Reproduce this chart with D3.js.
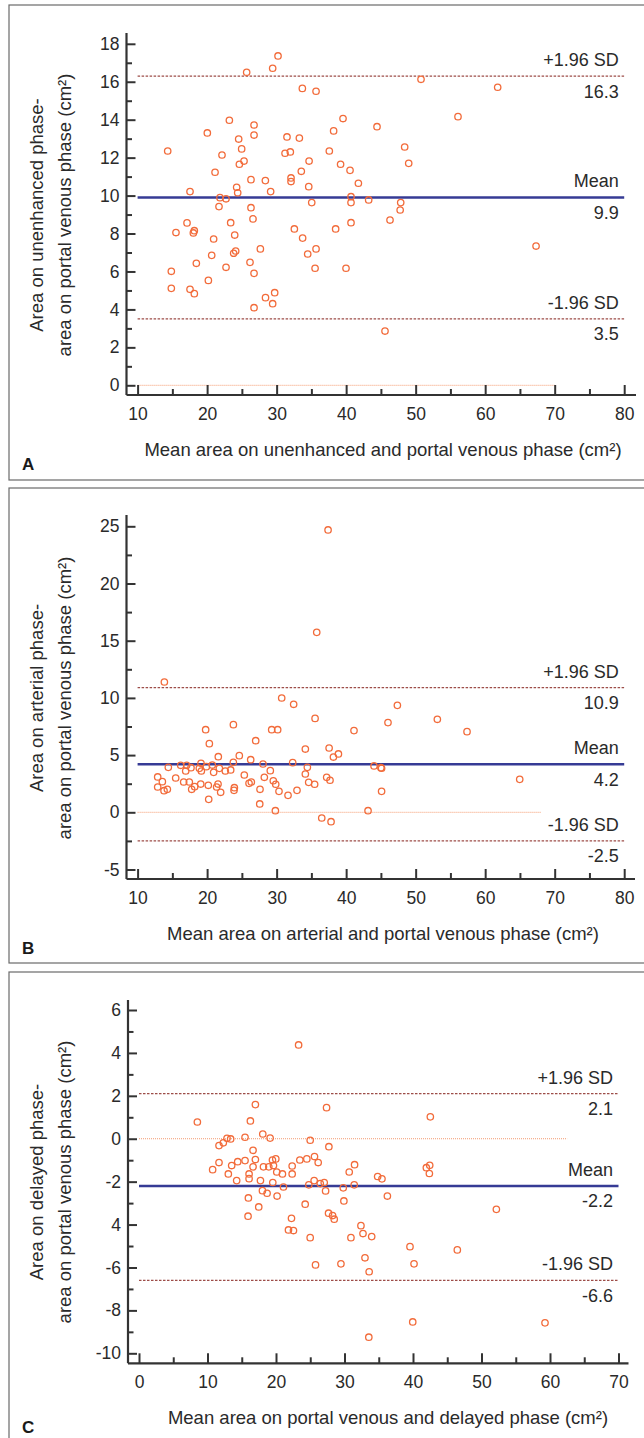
<!DOCTYPE html>
<html>
<head>
<meta charset="utf-8">
<script src="https://cdn.jsdelivr.net/npm/d3@7"></script>
<style>
  html, body { margin: 0; padding: 0; background: #fff; }
  svg { display: block; }
</style>
</head>
<body>
<script>
// Bland-Altman plots: area differences between CT phases (panels A, B, C)

// ---- panel A: unenhanced vs portal venous ----
const aMean = [14.33, 17.54, 15.52, 14.85, 14.85, 17.11, 18.16, 18.02, 18.45, 17.54,
  18.16, 20.03, 21.14, 22.14, 23.2, 20.94, 20.66, 20.18, 21.85, 21.71,
  22.72, 22.72, 23.39, 23.97, 24.11, 23.82, 24.54, 24.97, 25.31, 24.64,
  24.25, 24.4, 25.69, 26.75, 26.75, 26.31, 26.31, 26.6, 26.17, 26.75,
  26.75, 27.66, 28.38, 29.14, 28.4, 29.43, 29.72, 29.43, 30.2, 31.21,
  31.97, 31.49, 33.27, 32.07, 32.07, 32.55, 33.55, 33.7, 33.74, 34.47,
  34.67, 34.62, 35.05, 35.67, 35.67, 35.53, 37.58, 38.2, 39.55, 39.2,
  38.49, 39.98, 40.56, 41.76, 40.7, 40.7, 40.7, 43.24, 44.44, 45.59,
  46.31, 47.85, 47.77, 48.42, 49.0, 50.77, 56.09, 61.8, 67.32];
const aDiff = [12.35, 10.21, 8.05, 6.01, 5.11, 8.56, 8.15, 8.03, 6.43, 5.06,
  4.83, 13.3, 11.23, 12.14, 13.97, 7.71, 6.85, 5.53, 9.89, 9.42,
  9.83, 6.22, 8.57, 7.92, 7.08, 6.96, 12.98, 12.46, 11.82, 11.65,
  10.44, 10.15, 16.5, 13.72, 13.19, 10.84, 9.36, 8.77, 6.48, 5.9,
  4.09, 7.19, 10.79, 10.21, 4.62, 4.3, 4.88, 16.71, 17.36, 12.23,
  12.3, 13.09, 13.03, 10.93, 10.74, 8.24, 11.28, 15.65, 7.76, 6.92,
  11.82, 10.47, 9.63, 15.5, 7.19, 6.17, 12.35, 13.41, 14.06, 11.65,
  8.24, 6.17, 11.33, 10.65, 9.94, 9.63, 8.57, 9.77, 13.63, 2.86,
  8.71, 9.63, 9.24, 12.56, 11.7, 16.13, 14.16, 15.71, 7.34];
const aLimits = [16.3, 9.9, 3.5];          // +1.96 SD, mean, -1.96 SD
const aZeroSpan = [10, 70];
const aXTicks = [10, 20, 30, 40, 50, 60, 70, 80];
const aYTicks = [0, 2, 4, 6, 8, 10, 12, 14, 16, 18];
const aYTickLabels = ["0", "2", "4", "6", "8", "10", "12", "14", "16", "18"];
const aXTitle = "Mean area on unenhanced and portal venous phase (cm\u00B2)";
const aYTitle = ["Area on unenhanced phase-", "area on portal venous phase (cm\u00B2)"];

// ---- panel B: arterial vs portal venous ----
const bMean = [13.85, 19.79, 20.32, 23.78, 26.99, 29.29, 30.15, 30.73, 32.45, 35.53,
  35.77, 37.4, 34.13, 37.55, 38.17, 38.89, 41.13,
  12.89, 13.56, 12.89, 13.8, 14.28, 14.42, 15.48, 16.2, 17.06, 16.92,
  16.63, 17.44, 17.78, 17.68, 18.21, 19.08, 19.12, 18.88, 19.17, 19.89,
  20.17, 20.23, 20.75, 20.94, 21.61, 21.76, 21.57, 21.37, 21.95, 22.62,
  23.39, 23.77, 24.63, 23.92, 23.87, 25.35, 26.27, 26.03, 26.36, 27.61,
  27.57, 28.04, 28.23, 29.09, 29.52,
  29.87, 30.34, 29.82, 32.31, 31.64, 32.93, 34.13, 34.42, 34.61, 35.47,
  37.2, 37.68, 36.49, 37.83, 43.15,
  44.01, 45.0, 45.1, 45.1, 46.02, 47.37, 53.12, 57.39, 64.97];
const bDiff = [11.39, 7.22, 6.0, 7.66, 6.26, 7.22, 7.22, 9.99, 9.44, 8.21,
  15.73, 24.68, 5.53, 5.62, 4.83, 5.1, 7.14,
  3.09, 2.68, 2.21, 1.89, 2.01, 3.93, 3.0, 4.11, 4.11, 3.61,
  2.65, 2.65, 2.01, 3.9, 2.24, 2.47, 4.28, 3.84, 3.61, 3.99,
  2.36, 1.13, 4.13, 3.49, 4.86, 3.84, 2.47, 2.21, 1.75, 3.61,
  3.7, 4.37, 4.95, 2.15, 1.92, 3.26, 4.6, 2.53, 2.65, 2.01,
  0.73, 4.22, 3.06, 3.64, 2.76,
  2.45, 1.83, 0.14, 4.34, 1.48, 1.92, 3.35, 3.93, 2.62, 2.45,
  3.06, 2.8, -0.5, -0.82, 0.14,
  4.05, 3.9, 3.85, 1.83, 7.84, 9.35, 8.13, 7.05, 2.88];
const bLimits = [10.9, 4.2, -2.5];
const bZeroSpan = [10, 68];
const bXTicks = [10, 20, 30, 40, 50, 60, 70, 80];
const bYTicks = [-5, 0, 5, 10, 15, 20, 25];
const bYTickLabels = ["-5", "0", "5", "10", "15", "20", "25"];
const bXTitle = "Mean area on arterial and portal venous phase (cm\u00B2)";
const bYTitle = ["Area on arterial phase-", "area on portal venous phase (cm\u00B2)"];

// ---- panel C: portal venous vs delayed ----
const cMean = [8.52, 10.75, 11.68, 12.31, 12.85, 13.38, 11.68, 13.04, 13.53, 14.41,
  14.26, 15.48, 15.48, 16.26, 16.99, 16.65, 16.99, 16.65, 16.07, 16.07,
  15.97, 15.92, 17.48, 17.73, 18.07, 18.17, 18.02, 18.7, 18.95, 19.14,
  19.48, 19.97, 19.63, 19.53, 20.11, 20.16, 20.94, 21.09, 22.36, 22.36,
  22.26, 21.82, 22.55, 23.48, 24.26, 24.5, 24.79, 24.99, 24.99, 25.57,
  25.62, 26.16, 25.77, 26.46, 27.04, 27.24, 27.38, 27.72, 27.67, 28.26,
  28.5, 29.48, 29.82, 29.91, 30.69, 31.47, 31.42, 30.94, 32.4, 32.7,
  32.99, 33.6, 33.97, 33.55, 23.3, 34.84, 35.47, 36.26, 39.56, 40.15,
  39.96, 42.53, 41.95, 42.44, 42.39, 46.47, 52.17, 59.27];
const cDiff = [0.78, -1.44, -0.32, -0.19, 0.02, -0.01, -1.11, -1.64, -1.25, -1.07,
  -1.95, 0.07, -1.02, 0.83, 1.59, -0.54, -0.97, -1.31, -1.64, -1.86,
  -2.76, -3.61, -3.18, -1.95, 0.22, -1.31, -2.42, -2.54, -1.31, 0.03,
  -0.99, -0.94, -1.25, -2.04, -1.55, -2.67, -1.64, -2.25, -1.27, -1.64,
  -3.71, -4.25, -4.28, -0.99, -3.05, -0.94, -2.15, -0.07, -4.61, -1.95,
  -0.83, -1.11, -5.88, -2.09, -2.04, -2.43, 1.45, -0.37, -3.47, -3.58,
  -3.75, -5.83, -2.29, -2.9, -1.55, -1.21, -2.15, -4.61, -4.05, -4.42,
  -5.55, -6.2, -4.56, -9.25, 4.37, -1.76, -1.87, -2.67, -5.03, -5.83,
  -8.54, 1.02, -1.35, -1.24, -1.62, -5.18, -3.29, -8.58];
const cLimits = [2.1, -2.2, -6.6];
const cZeroSpan = [0, 62.5];
const cXTicks = [0, 10, 20, 30, 40, 50, 60, 70];
const cYTicks = [-10, -8, -6, -4, -2, 0, 2, 4, 6];
const cYTickLabels = ["-10", "-8", "-6", "4", "-2", "0", "2", "4", "6"];
const cXTitle = "Mean area on portal venous and delayed phase (cm\u00B2)";
const cYTitle = ["Area on delayed phase-", "area on portal venous phase (cm\u00B2)"];

const limitNames = ["+1.96 SD", "Mean", "-1.96 SD"];

// ---- page ----
const W = 644, H = 1438;
const FONT = "'Liberation Sans', Arial, sans-serif";
const INK = "#2a2a2a";

const svg = d3.select("body").append("svg")
  .attr("width", W).attr("height", H)
  .attr("viewBox", `0 0 ${W} ${H}`)
  .style("background", "#fff");

const panels = [
  { letter: "A", xs: aMean, ys: aDiff, limits: aLimits, zero: aZeroSpan,
    xTicks: aXTicks, yTicks: aYTicks, yLabels: aYTickLabels, xTitle: aXTitle, yTitle: aYTitle,
    xDom: [10, 80], xRange: [137.6, 624.2], yDom: [0, 18], yRange: [385.3, 43.8],
    frame: [5, 480], axisX: 126.5, axisY: 395, axisTop: 33, axisRight: 636,
    xTitleX: 383, yTitleY: 215 },
  { letter: "B", xs: bMean, ys: bDiff, limits: bLimits, zero: bZeroSpan,
    xTicks: bXTicks, yTicks: bYTicks, yLabels: bYTickLabels, xTitle: bXTitle, yTitle: bYTitle,
    xDom: [10, 80], xRange: [137.6, 624.2], yDom: [0, 25], yRange: [812.3, 526.3],
    frame: [488, 963], axisX: 126.5, axisY: 879, axisTop: 515, axisRight: 635,
    xTitleX: 383, yTitleY: 698 },
  { letter: "C", xs: cMean, ys: cDiff, limits: cLimits, zero: cZeroSpan,
    xTicks: cXTicks, yTicks: cYTicks, yLabels: cYTickLabels, xTitle: cXTitle, yTitle: cYTitle,
    xDom: [0, 70], xRange: [139, 618.5], yDom: [-10, 6], yRange: [1353.3, 1010],
    frame: [972, 1450], axisX: 128, axisY: 1363.3, axisTop: 1000, axisRight: 628.5,
    xTitleX: 388, yTitleY: 1182 }
];

panels.forEach(drawPanel);

function midpoints(ticks) {
  return d3.pairs(ticks).map(([a, b]) => (a + b) / 2);
}

function drawPanel(p) {
  const x = d3.scaleLinear().domain(p.xDom).range(p.xRange);
  const y = d3.scaleLinear().domain(p.yDom).range(p.yRange);
  const g = svg.append("g").attr("class", "panel");

  // frame round the panel
  g.append("rect")
    .attr("x", 9).attr("y", p.frame[0])
    .attr("width", 660).attr("height", p.frame[1] - p.frame[0])
    .attr("fill", "none").attr("stroke", "#6a6a6a").attr("stroke-width", 1.2);

  // zero line
  g.append("line")
    .attr("x1", x(p.zero[0])).attr("x2", x(p.zero[1]))
    .attr("y1", y(0)).attr("y2", y(0))
    .attr("stroke", "#f49a6e").attr("stroke-width", 1)
    .attr("stroke-dasharray", "1,1");

  // limits of agreement + mean
  const x0 = x(p.xDom[0]), x1 = x(p.xDom[1]);
  p.limits.forEach((v, i) => {
    const isMean = i === 1;
    g.append("line")
      .attr("x1", x0).attr("x2", x1)
      .attr("y1", y(v)).attr("y2", y(v))
      .attr("stroke", isMean ? "#363b95" : "#9d4d48")
      .attr("stroke-width", isMean ? 2.6 : 1.3)
      .attr("stroke-dasharray", isMean ? null : "2.5,1.5");

    g.append("text")
      .attr("x", x1 - 5.5).attr("y", y(v) - 10)
      .attr("text-anchor", "end")
      .style("font-family", FONT).style("font-size", "18px").style("fill", INK)
      .text(limitNames[i]);
    g.append("text")
      .attr("x", x1 - 5.5).attr("y", y(v) + 21.5)
      .attr("text-anchor", "end")
      .style("font-family", FONT).style("font-size", "18px").style("fill", INK)
      .text(v.toFixed(1));
  });

  // points
  g.append("g").selectAll("circle")
    .data(d3.zip(p.xs, p.ys))
    .join("circle")
    .attr("cx", d => x(d[0]))
    .attr("cy", d => y(d[1]))
    .attr("r", 3.2)
    .attr("fill", "none")
    .attr("stroke", "#f26b3a")
    .attr("stroke-width", 1.3);

  // axis lines (they run past the scale range)
  g.append("line")
    .attr("x1", p.axisX).attr("x2", p.axisX)
    .attr("y1", p.axisTop).attr("y2", p.axisY)
    .attr("stroke", "#333").attr("stroke-width", 2.2);
  g.append("line")
    .attr("x1", p.axisX).attr("x2", p.axisRight)
    .attr("y1", p.axisY).attr("y2", p.axisY)
    .attr("stroke", "#333").attr("stroke-width", 2.2);

  // y axis, ticks point inward
  const yAx = g.append("g")
    .attr("transform", `translate(${p.axisX},0)`)
    .call(d3.axisLeft(y).tickValues(p.yTicks)
      .tickFormat((d, i) => p.yLabels[i])
      .tickSizeInner(-9).tickSizeOuter(0).tickPadding(7));
  const yMin = g.append("g")
    .attr("transform", `translate(${p.axisX},0)`)
    .call(d3.axisLeft(y).tickValues(midpoints(p.yTicks))
      .tickFormat("").tickSizeInner(-5.5).tickSizeOuter(0));

  // x axis
  const xAx = g.append("g")
    .attr("transform", `translate(0,${p.axisY})`)
    .call(d3.axisBottom(x).tickValues(p.xTicks)
      .tickSizeInner(-10).tickSizeOuter(0).tickPadding(12.6));
  const xMin = g.append("g")
    .attr("transform", `translate(0,${p.axisY})`)
    .call(d3.axisBottom(x).tickValues(midpoints(p.xTicks))
      .tickFormat("").tickSizeInner(-6).tickSizeOuter(0));

  [yAx, yMin, xAx, xMin].forEach(a => {
    a.select(".domain").remove();
    a.selectAll(".tick line").attr("stroke", "#333").attr("stroke-width", 2);
    a.selectAll(".tick text")
      .style("font-family", FONT).style("font-size", "17.5px").style("fill", INK);
  });

  // axis titles
  g.append("text")
    .attr("x", p.xTitleX).attr("y", p.axisY + 61)
    .attr("text-anchor", "middle")
    .style("font-family", FONT).style("font-size", "18.5px").style("fill", INK)
    .text(p.xTitle);

  [43, 70.5].forEach((bx, i) => {
    g.append("text")
      .attr("transform", `translate(${bx},${p.yTitleY}) rotate(-90)`)
      .attr("text-anchor", "middle")
      .style("font-family", FONT).style("font-size", "18.5px").style("fill", INK)
      .text(p.yTitle[i]);
  });

  // panel letter (kept inside the page at the bottom)
  g.append("text")
    .attr("x", 22).attr("y", Math.min(p.axisY + 75, H - 5))
    .style("font-family", FONT).style("font-size", "17px")
    .style("font-weight", "bold").style("fill", "#1a1a1a")
    .text(p.letter);
}
</script>
</body>
</html>
